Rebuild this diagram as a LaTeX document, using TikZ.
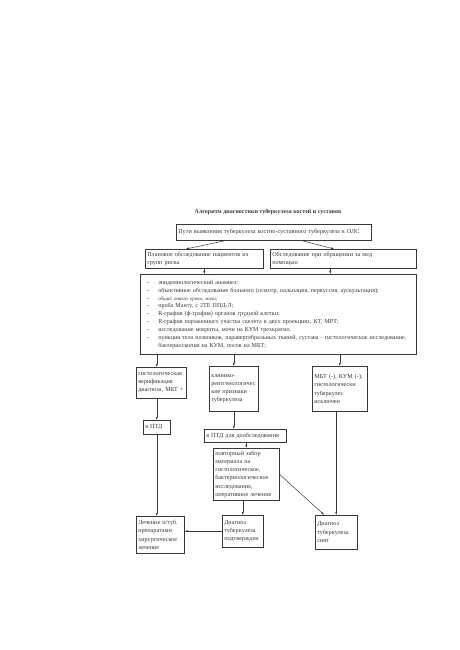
\documentclass[tikz,border=0pt]{standalone}
\usepackage{fontspec}
\setmainfont{Liberation Serif}
\usetikzlibrary{arrows.meta}
\definecolor{ink}{gray}{0.22}
\newcommand{\boxfont}{\fontsize{6.2}{8.3}\selectfont}
\newcommand{\listfont}{\fontsize{6.1}{7.9}\selectfont}
\tikzset{
  box/.style={draw=ink, line width=0.5pt, anchor=north west, align=left,
    inner xsep=2pt, inner ysep=1.5pt, font=\boxfont, text=ink},
  arr/.style={draw=ink, line width=0.5pt, -{Latex[length=3pt,width=2.2pt]}},
}

\begin{document}
\begin{tikzpicture}[x=1pt, y=-1pt]
			\useasboundingbox (0,0) rectangle (459,650);
			
			% title
			\node[font=\bfseries\fontsize{6}{7}\selectfont, text=ink] (title) at (268,212)
				{Алгоритм диагностики туберкулеза костей и суставов};
			
			% first two rows
			\node[box, text width=191pt, minimum height=16pt] (ways) at (176,224)
				{Пути выявления туберкулеза костно-суставного туберкулеза в ОЛС};
			\node[box, text width=114pt, minimum height=19pt] (plan) at (145,249)
				{Плановое обследование пациентов из\\групп риска};
			\node[box, text width=142pt, minimum height=19pt] (visit) at (270,249)
				{Обследование при обращении за мед\\помощью};
			
			% examination list
			\node[box, text width=272pt, minimum height=80pt, font=\listfont] (exam) at (140,274) {%
				\begin{tabular}{@{\hspace{4pt}}p{12pt}@{}l@{}}
					-- & эпидемиологический анамнез;\\
					-- & объективное обследование больного (осмотр, пальпация, перкуссия, аускультация);\\
					-- & {\itshape\fontsize{5}{7.9}\selectfont общий анализ крови, мочи;}\\
					-- & проба Манту, с 2ТЕ ППД-Л;\\
					-- & R-графия (ф-графия) органов грудной клетки;\\
					-- & R-графия пораженного участка скелета в двух проекциях, КТ, МРТ;\\
					-- & исследование мокроты, мочи на КУМ трехкратно.\\
					-- & пункция тела позвонков, паравертебральных тканей, сустава - гистологическое исследование,\\
					   & бактериоскопия на КУМ, посев на МБТ;
				\end{tabular}};
			
			% three outcomes
			\node[box, text width=46pt, minimum height=31pt] (hist) at (136,367)
				{гистологическая\\верификация\\диагноза, МБТ +};
			\node[box, text width=45pt, minimum height=45pt] (clin) at (209,366)
				{клинико-\\рентгенологичес\\кие признаки\\туберкулеза};
			\node[box, text width=51pt, minimum height=45pt] (excl) at (312,366)
				{МБТ (-), КУМ (-),\\гистологически\\туберкулез\\исключен};
			
			% referral and follow-up
			\node[box, text width=23pt, minimum height=14pt] (ptdA) at (143,420) {в ПТД};
			\node[box, text width=78pt, minimum height=13pt] (ptdB) at (204,429) {в ПТД для дообследования};
			\node[box, text width=62pt, minimum height=52pt] (rep) at (213,448)
				{повторный забор\\материала на\\гистологическое,\\бактериологическое\\исследование,\\оперативное лечение};
			
			% final boxes
			\node[box, text width=44pt, minimum height=37pt] (treat) at (136,516)
				{Лечение п/туб.\\препаратами\\хирургическое\\лечение};
			\node[box, text width=37pt, minimum height=32pt] (conf) at (222,515)
				{Диагноз\\туберкулеза\\подтвержден};
			\node[box, text width=38pt, minimum height=34pt] (rem) at (315,515)
				{Диагноз\\туберкулеза\\снят};
			
			% arrows
			\coordinate (visitOut) at ([xshift=-13pt]visit.south);
			\draw[arr] ([xshift=-47.5pt]ways.south) -- ([xshift=-18.5pt]plan.north);
			\draw[arr] ([xshift=27.5pt]ways.south) -- ([xshift=-9pt]visit.north);
			\draw[arr] (plan.south) -- (plan.south |- exam.north);
			\draw[arr] (visitOut) -- (visitOut |- exam.north);
			\draw[arr] (ptdA.north |- exam.south) -- (ptdA.north |- hist.north);
			\draw[arr] (clin.north |- exam.south) -- (clin.north);
			\draw[arr] (excl.north |- exam.south) -- (excl.north);
			\draw[arr] (ptdA.north |- hist.south) -- (ptdA.north);
			\draw[arr] (ptdA.south) -- (ptdA.south |- treat.north);
			\draw[arr] (clin.south) -- (clin.south |- ptdB.north);
			\draw[arr] (rep.north |- ptdB.south) -- (rep.north);
			\draw[arr] (conf.north |- rep.south) -- (conf.north);
			\draw[arr] (rep.east) -- ([xshift=-12pt]rem.north);
			\draw[arr] (excl.south -| rem.north) -- (rem.north);
			\draw[arr] (conf.west) -- (conf.west -| treat.east);
			
		\end{tikzpicture}
\end{document}
